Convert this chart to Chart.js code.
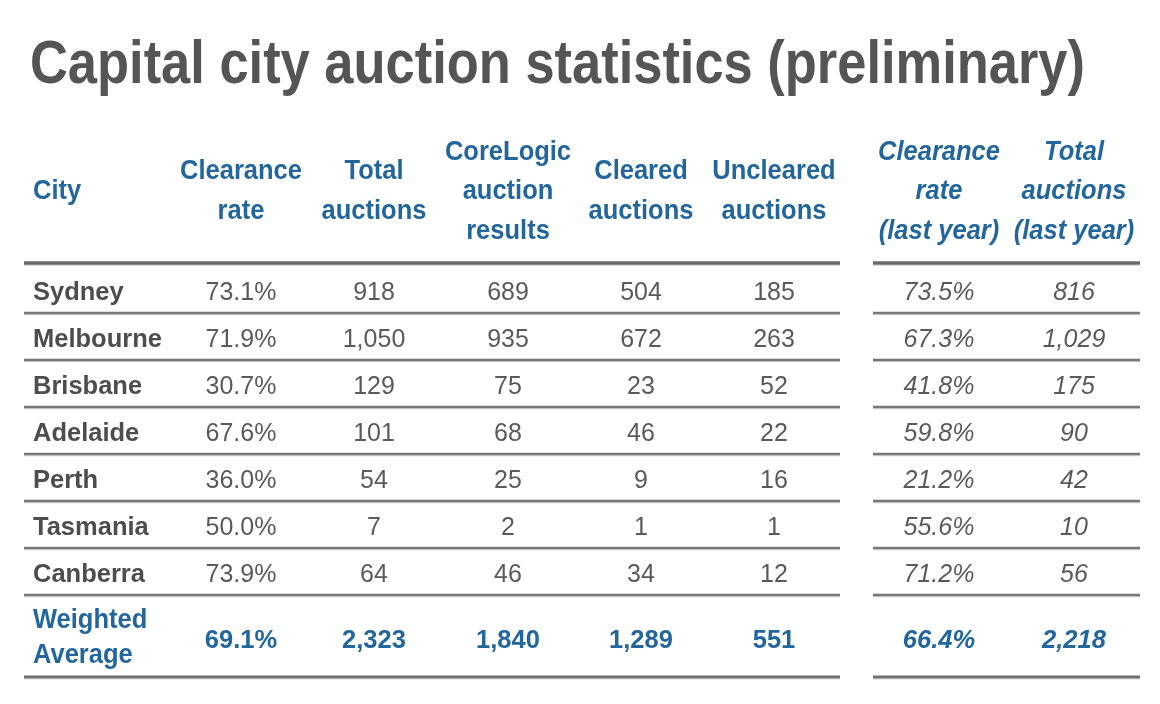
<!DOCTYPE html>
<html>
<head>
<meta charset="utf-8">
<script src="https://cdn.jsdelivr.net/npm/chart.js@4/dist/chart.umd.min.js"></script>
<style>
  html, body { margin: 0; padding: 0; background: #fff; }
  #wrap { width: 1160px; height: 704px; }
</style>
</head>
<body>
<div id="wrap"><canvas id="auctionTable" width="1160" height="704"></canvas></div>
<script>
// table data
const cities = ["Sydney", "Melbourne", "Brisbane", "Adelaide", "Perth", "Tasmania", "Canberra"];
const clearanceRate = [73.1, 71.9, 30.7, 67.6, 36.0, 50.0, 73.9];
const totalAuctions = [918, 1050, 129, 101, 54, 7, 64];
const coreLogicResults = [689, 935, 75, 68, 25, 2, 46];
const clearedAuctions = [504, 672, 23, 46, 9, 1, 34];
const unclearedAuctions = [185, 263, 52, 22, 16, 1, 12];
const clearanceLastYear = [73.5, 67.3, 41.8, 59.8, 21.2, 55.6, 71.2];
const totalLastYear = [816, 1029, 175, 90, 42, 10, 56];
const weightedAverage = [69.1, 2323, 1840, 1289, 551, 66.4, 2218];
const averageLabel = ["Weighted", "Average"];

const headers = [
  ["City"],
  ["Clearance", "rate"],
  ["Total", "auctions"],
  ["CoreLogic", "auction", "results"],
  ["Cleared", "auctions"],
  ["Uncleared", "auctions"],
  ["Clearance", "rate", "(last year)"],
  ["Total", "auctions", "(last year)"]
];
const title = "Capital city auction statistics (preliminary)";

// layout
const FONT = "'Liberation Sans', Arial, Helvetica, sans-serif";
const cityX = 33;
const colX = [241, 374, 508, 641, 774, 939, 1074];
const italicCol = [false, false, false, false, false, true, true];
const firstRow = 300;
const rowPitch = 47;
const avgBaseline = 648;
const headerMid = 199;
const headerPitch = 39.5;
const leftRule = [24, 840];
const rightRule = [873, 1140];
const GREY = "#5a5a5a";
const CITY_GREY = "#4d4d4d";
const BLUE = "#22669c";

const pct = (v) => v.toFixed(1) + "%";
const num = (v) => v.toLocaleString("en-US");
const fmt = [pct, num, num, num, num, pct, num];
const columns = [clearanceRate, totalAuctions, coreLogicResults, clearedAuctions,
  unclearedAuctions, clearanceLastYear, totalLastYear];

const rowY = (i) => firstRow + i * rowPitch;

// one scatter dataset per column, the text is drawn at each point
const datasets = columns.map((col, c) => ({
  label: headers[c + 1].join(" "),
  data: col.map((v, i) => ({ x: colX[c], y: rowY(i), text: fmt[c](v) }))
    .concat([{ x: colX[c], y: avgBaseline, text: fmt[c](weightedAverage[c]), avg: true }]),
  pointRadius: 0,
  italic: italicCol[c]
}));
datasets.unshift({
  label: "City",
  data: cities.map((name, i) => ({ x: cityX, y: rowY(i), text: name, city: true })),
  pointRadius: 0,
  italic: false,
  left: true
});

function drawText(ctx, text, x, y, font, color, align, sx, sy) {
  ctx.save();
  ctx.font = font;
  ctx.fillStyle = color;
  ctx.textAlign = align;
  ctx.textBaseline = "alphabetic";
  ctx.translate(x, y);
  ctx.scale(sx, sy);
  ctx.fillText(text, 0, 0);
  ctx.restore();
}

const tablePlugin = {
  id: "tablePlugin",
  beforeDatasetsDraw(chart) {
    const ctx = chart.ctx;
    const xs = chart.scales.x, ys = chart.scales.y;

    // title, fitted to the reference width
    ctx.save();
    ctx.font = "bold 62px " + FONT;
    const w = ctx.measureText(title).width;
    ctx.restore();
    drawText(ctx, title, xs.getPixelForValue(30), ys.getPixelForValue(83),
      "bold 62px " + FONT, "#555555", "left", 1055 / w, 1);

    // header text
    headers.forEach((lines, c) => {
      const x = c === 0 ? cityX : colX[c - 1];
      const it = c >= 6 ? "italic " : "";
      lines.forEach((t, k) => {
        const y = headerMid + (k - (lines.length - 1) / 2) * headerPitch;
        drawText(ctx, t, xs.getPixelForValue(x), ys.getPixelForValue(y),
          it + "bold 25.5px " + FONT, BLUE, c === 0 ? "left" : "center", 1, 1.05);
      });
    });

    // weighted average label
    averageLabel.forEach((t, k) => {
      drawText(ctx, t, xs.getPixelForValue(cityX), ys.getPixelForValue(628 + k * 35),
        "bold 25.5px " + FONT, BLUE, "left", 1, 1.05);
    });

    // rules
    const rule = (y, lw, color) => {
      [leftRule, rightRule].forEach((r) => {
        ctx.save();
        ctx.strokeStyle = color;
        ctx.lineWidth = lw;
        ctx.beginPath();
        ctx.moveTo(xs.getPixelForValue(r[0]), ys.getPixelForValue(y));
        ctx.lineTo(xs.getPixelForValue(r[1]), ys.getPixelForValue(y));
        ctx.stroke();
        ctx.strokeStyle = "rgba(120,120,120,0.35)";
        ctx.lineWidth = 1;
        ctx.beginPath();
        ctx.moveTo(xs.getPixelForValue(r[0]), ys.getPixelForValue(y + lw / 2 + 0.5));
        ctx.lineTo(xs.getPixelForValue(r[1]), ys.getPixelForValue(y + lw / 2 + 0.5));
        ctx.stroke();
        ctx.restore();
      });
    };
    rule(263, 3.5, "#6a6a6a");
    for (let i = 0; i < cities.length; i++) {
      rule(rowY(i) + 13, 2.5, "#777777");
    }
    rule(677, 3, "#707070");
  },
  afterDatasetsDraw(chart) {
    const ctx = chart.ctx;
    chart.data.datasets.forEach((ds, d) => {
      const meta = chart.getDatasetMeta(d);
      meta.data.forEach((el, i) => {
        const p = ds.data[i];
        let font, color;
        if (p.city) {
          font = "bold 25.5px " + FONT;
          color = CITY_GREY;
        } else if (p.avg) {
          font = (ds.italic ? "italic " : "") + "bold 25.5px " + FONT;
          color = BLUE;
        } else {
          font = (ds.italic ? "italic " : "") + "25px " + FONT;
          color = GREY;
        }
        drawText(ctx, p.text, el.x, el.y, font, color, ds.left ? "left" : "center", 1, 1.03);
      });
    });
  }
};

new Chart(document.getElementById("auctionTable").getContext("2d"), {
  type: "scatter",
  data: { datasets: datasets },
  options: {
    responsive: false,
    animation: false,
    layout: { padding: 0 },
    scales: {
      x: { type: "linear", min: 0, max: 1160, display: false },
      y: { type: "linear", min: 0, max: 704, reverse: true, display: false }
    },
    plugins: { legend: { display: false }, tooltip: { enabled: false } }
  },
  plugins: [tablePlugin]
});
</script>
</body>
</html>
